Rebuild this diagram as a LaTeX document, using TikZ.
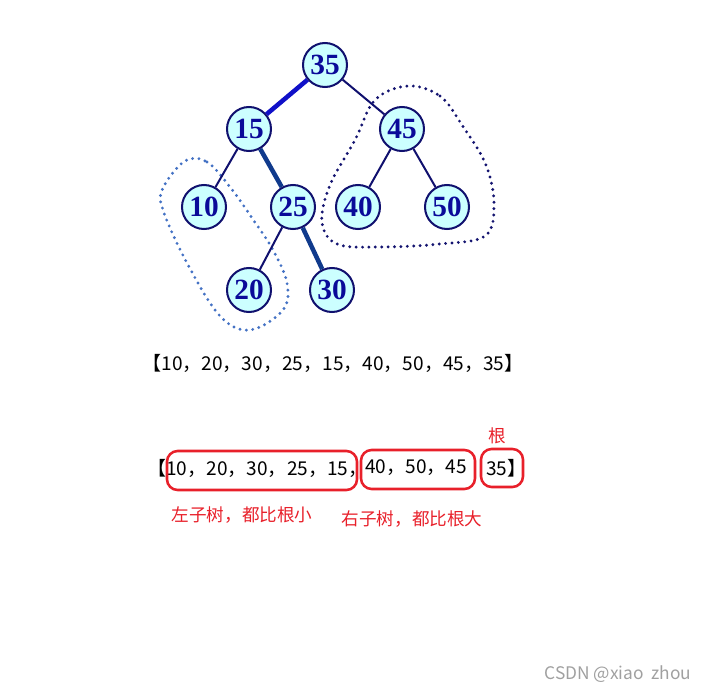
\documentclass[tikz,border=0pt]{standalone}
\usepackage{fontspec}
\newfontfamily\cjk{Noto Sans CJK SC}
\newfontfamily\tnr{Liberation Serif}
\definecolor{cfill}{HTML}{CCFFFF}
\definecolor{cdraw}{HTML}{10106E}
\definecolor{ctext}{HTML}{0A0A99}
\definecolor{thickA}{HTML}{1010C8}
\definecolor{thickB}{HTML}{103A8C}
\definecolor{dotL}{HTML}{4472C4}
\definecolor{dotR}{HTML}{141470}
\definecolor{cred}{HTML}{E8202A}
\definecolor{wm}{HTML}{A0A0A0}
\tikzset{
  tn/.style={circle,draw=cdraw,fill=cfill,line width=1.5pt,minimum size=33pt,inner sep=0pt,
    font=\tnr\bfseries\fontsize{22}{22}\selectfont,text=ctext},
  thin edge/.style={draw=cdraw,line width=1.5pt},
  thick edge/.style={line width=3.4pt},
  dotline/.style={line width=2.4pt,line cap=round,dash pattern=on 0pt off 4.8pt},
  row/.style={font=\cjk\fontsize{14.3}{15}\selectfont,text=black,inner sep=0pt},
  redlbl/.style={font=\cjk\fontsize{13.2}{14}\selectfont,text=cred,inner sep=0pt},
  redbox/.style={draw=cred,line width=1.9pt,rounded corners=8pt},
}
\begin{document}
\begin{tikzpicture}[x=0.75pt,y=-0.75pt]
\useasboundingbox (0,0) rectangle (715,692);
% dotted enclosures
\draw[dotline,draw=dotR] plot[smooth cycle,tension=0.6] coordinates{
  (408,86) (440,96) (462,125) (486,165) (494,205) (485,236) (440,244) (380,247) (337,244) (322,222) (330,185) (355,140) (375,100)};
\draw[dotline,draw=dotL] plot[smooth cycle,tension=0.6] coordinates{
  (185,161) (207,162) (230,187) (252,218) (273,250) (287,283) (283,310) (250,330) (220,316) (187,263) (163,210) (163,188)};
% nodes
\node[tn] (n35) at (325,65) {35};
\node[tn] (n15) at (249,129) {15};
\node[tn] (n45) at (402,129) {45};
\node[tn] (n10) at (204,207) {10};
\node[tn] (n25) at (293,207) {25};
\node[tn] (n40) at (358,207) {40};
\node[tn] (n50) at (447,207) {50};
\node[tn] (n20) at (249,290) {20};
\node[tn] (n30) at (332,290) {30};
% edges
\draw[thick edge,draw=thickA] (n35) -- (n15);
\draw[thin edge] (n35) -- (n45);
\draw[thin edge] (n15) -- (n10);
\draw[thick edge,draw=thickB] (n15) -- (n25);
\draw[thin edge] (n25) -- (n20);
\draw[thick edge,draw=thickB] (n25) -- (n30);
\draw[thin edge] (n45) -- (n40);
\draw[thin edge] (n45) -- (n50);
% row 1
\node[row] (r1) at (333,363) {【10，20，30，25，15，40，50，45，35】};
% row 2
\node[row,anchor=west] (r2a) at (147,468) {【10，20，30，25，15，};
\node[row,anchor=west] (r2b) at (365,468) {40，50，45};
\node[row,anchor=west] (r2c) at (486,468) {35】};
\node[redbox,minimum width=190*0.75pt,minimum height=39*0.75pt] (b1) at (262,470.5) {};
\node[redbox,minimum width=114*0.75pt,minimum height=39*0.75pt] (b2) at (418,469.5) {};
\node[redbox,minimum width=42*0.75pt,minimum height=38*0.75pt] (b3) at (502,468) {};
\node[redlbl] (lroot) at (497,436) {根};
\node[redlbl] (lleft) at (242,515) {左子树，都比根小};
\node[redlbl] (lright) at (412,519) {右子树，都比根大};
% watermark
\node[font=\cjk\fontsize{13}{13}\selectfont,text=wm,inner sep=0pt] (wmk) at (618,674) {CSDN @xiao\ \ zhou};
\end{tikzpicture}
\end{document}
